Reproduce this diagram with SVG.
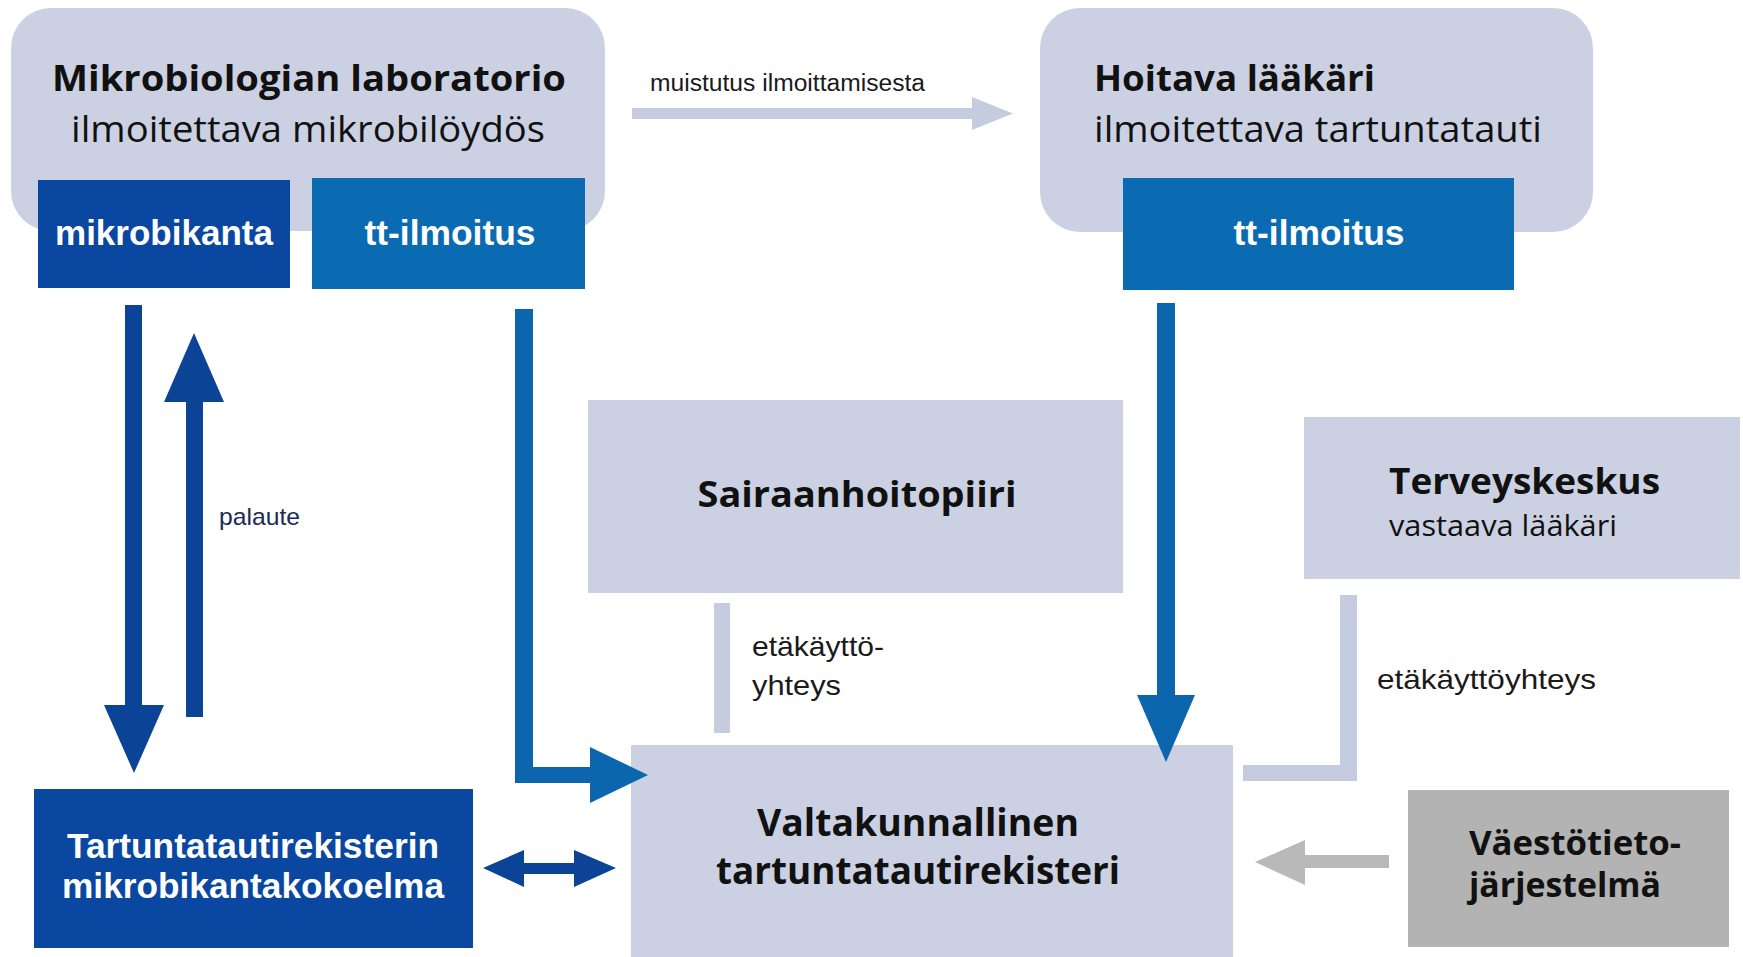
<svg xmlns="http://www.w3.org/2000/svg" width="1743" height="957" viewBox="0 0 1743 957">
<style>
.bg{fill:#ffffff}
.pale{fill:#cbd1e3}
.dark{fill:#0a47a0}
.mid{fill:#0a6bb3}
.grey{fill:#b3b3b3}
.hb{font-family:"Open Sans","Noto Sans",sans-serif;font-weight:bold;fill:#111}
.hr{font-family:"Open Sans","Noto Sans",sans-serif;font-weight:normal;fill:#111}
.wb{font-family:"Liberation Sans",Arial,sans-serif;font-weight:bold;fill:#ffffff}
.sm{font-family:"Liberation Sans",Arial,sans-serif;fill:#1a1a1a}
.cd{fill:#0b4396}
.cm{fill:#0b66ae}
.cl{fill:#c6cce0}
.cg{fill:#b9b9b9}
</style>
<rect class="bg" x="0" y="0" width="1743" height="957"/>

<g id="mikrobiologian-laboratorio">
  <rect class="pale" x="11" y="8" width="594" height="223" rx="40" ry="40"/>
  <text class="hb" x="309" y="91" font-size="35" text-anchor="middle" textLength="514" lengthAdjust="spacingAndGlyphs">Mikrobiologian laboratorio</text>
  <text class="hr" x="308" y="142" font-size="36" text-anchor="middle" textLength="474" lengthAdjust="spacingAndGlyphs">ilmoitettava mikrobilöydös</text>
</g>
<g id="mikrobikanta">
  <rect class="dark" x="38" y="180" width="252" height="108"/>
  <text class="wb" x="164" y="245" font-size="35" text-anchor="middle" textLength="218" lengthAdjust="spacingAndGlyphs">mikrobikanta</text>
</g>
<g id="tt-ilmoitus-lab">
  <rect class="mid" x="312" y="178" width="273" height="111"/>
  <text class="wb" x="450" y="245" font-size="35" text-anchor="middle" textLength="171" lengthAdjust="spacingAndGlyphs">tt-ilmoitus</text>
</g>

<g id="hoitava-laakari">
  <rect class="pale" x="1040" y="8" width="553" height="224" rx="40" ry="40"/>
  <text class="hb" x="1094" y="91" font-size="35" textLength="281" lengthAdjust="spacingAndGlyphs">Hoitava lääkäri</text>
  <text class="hr" x="1094" y="142" font-size="36" textLength="448" lengthAdjust="spacingAndGlyphs">ilmoitettava tartuntatauti</text>
</g>
<g id="tt-ilmoitus-laakari">
  <rect class="mid" x="1123" y="178" width="391" height="112"/>
  <text class="wb" x="1319" y="245" font-size="35" text-anchor="middle" textLength="171" lengthAdjust="spacingAndGlyphs">tt-ilmoitus</text>
</g>

<g id="sairaanhoitopiiri">
  <rect class="pale" x="588" y="400" width="535" height="193"/>
  <text class="hb" x="857" y="507" font-size="36" text-anchor="middle" textLength="319" lengthAdjust="spacingAndGlyphs">Sairaanhoitopiiri</text>
</g>

<g id="terveyskeskus">
  <rect class="pale" x="1304" y="417" width="436" height="162"/>
  <text class="hb" x="1389" y="494" font-size="36" textLength="271" lengthAdjust="spacingAndGlyphs">Terveyskeskus</text>
  <text class="hr" x="1389" y="536" font-size="29" textLength="228" lengthAdjust="spacingAndGlyphs">vastaava lääkäri</text>
</g>

<g id="valtakunnallinen-rekisteri">
  <rect class="pale" x="631" y="745" width="602" height="220"/>
  <text class="hb" x="918" y="836" font-size="37" text-anchor="middle" textLength="322" lengthAdjust="spacingAndGlyphs">Valtakunnallinen</text>
  <text class="hb" x="918" y="884" font-size="37" text-anchor="middle" textLength="404" lengthAdjust="spacingAndGlyphs">tartuntatautirekisteri</text>
</g>

<g id="mikrobikantakokoelma">
  <rect class="dark" x="34" y="789" width="439" height="159"/>
  <text class="wb" x="253" y="858" font-size="35" text-anchor="middle" textLength="372" lengthAdjust="spacingAndGlyphs">Tartuntatautirekisterin</text>
  <text class="wb" x="253" y="898" font-size="35" text-anchor="middle" textLength="382" lengthAdjust="spacingAndGlyphs">mikrobikantakokoelma</text>
</g>

<g id="vaestotietojarjestelma">
  <rect class="grey" x="1408" y="790" width="321" height="157"/>
  <text class="hb" x="1469" y="855" font-size="34" textLength="212" lengthAdjust="spacingAndGlyphs">Väestötieto-</text>
  <text class="hb" x="1469" y="897" font-size="34" textLength="192" lengthAdjust="spacingAndGlyphs">järjestelmä</text>
</g>

<g id="connectors">
  <polygon class="cl" points="632,108 972,108 972,97 1013,113.5 972,130 972,119 632,119"/>
  <text class="sm" x="650" y="91" font-size="23" textLength="275" lengthAdjust="spacingAndGlyphs">muistutus ilmoittamisesta</text>

  <polygon class="cd" points="125,305 142,305 142,705 164,705 134,773 104,705 125,705"/>
  <polygon class="cd" points="186,717 203,717 203,402 224,402 194,333 164,402 186,402"/>
  <text class="sm" x="219" y="525" font-size="24" textLength="81" lengthAdjust="spacingAndGlyphs" style="fill:#1c2b55">palaute</text>

  <polygon class="cm" points="515,309 533,309 533,767 590,767 590,747 648,775 590,803 590,783 515,783"/>
  <polygon class="cm" points="1157,303 1175,303 1175,695 1195,695 1166,762 1137,695 1157,695"/>

  <polygon class="cd" points="483,868 524,850 524,863 574,863 574,850 616,868 574,887 574,874 524,874 524,887"/>

  <rect class="cl" x="714" y="603" width="16" height="130"/>
  <text class="sm" x="752" y="656" font-size="28" textLength="132" lengthAdjust="spacingAndGlyphs">etäkäyttö-</text>
  <text class="sm" x="752" y="695" font-size="28" textLength="89" lengthAdjust="spacingAndGlyphs">yhteys</text>

  <polygon class="cl" points="1340,595 1357,595 1357,781 1243,781 1243,765 1340,765"/>
  <text class="sm" x="1377" y="689" font-size="28" textLength="219" lengthAdjust="spacingAndGlyphs">etäkäyttöyhteys</text>

  <polygon class="cg" points="1389,855 1305,855 1305,840 1255,862 1305,885 1305,868 1389,868"/>
</g>
</svg>
